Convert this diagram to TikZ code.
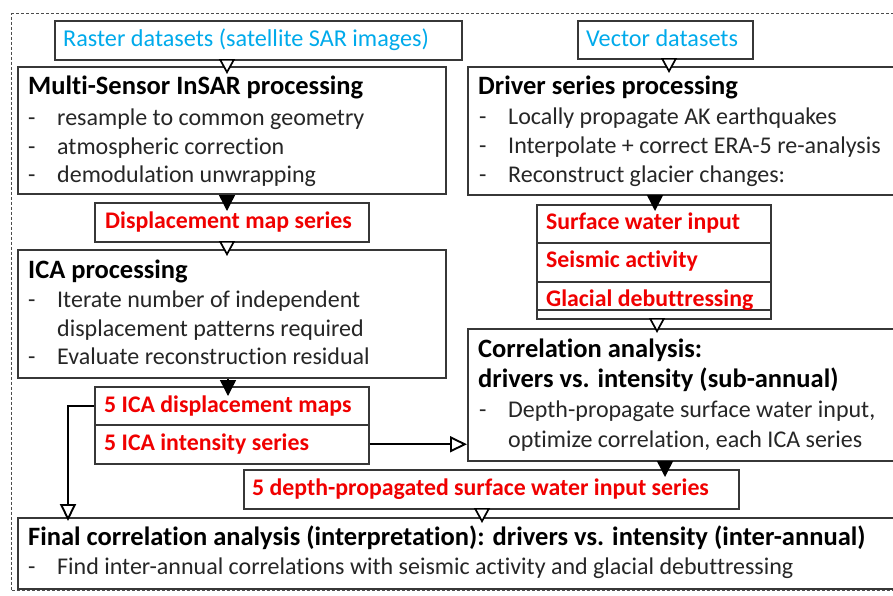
\documentclass[tikz,border=0pt]{standalone}
\usepackage{fontspec}
\setmainfont{Carlito}[Ligatures={NoCommon}]
\usetikzlibrary{arrows.meta}
\definecolor{cyanT}{RGB}{0,170,235}
\definecolor{redT}{RGB}{240,0,0}
\definecolor{frameC}{RGB}{55,55,55}
\begin{document}
\begin{tikzpicture}[x=1pt,y=-1pt,
  box/.style={draw=frameC, line width=1.5pt, rectangle, inner sep=0pt, anchor=north west},
  ttl/.style={anchor=base west, inner sep=0pt, font=\fontsize{26.5}{30}\selectfont\bfseries},
  bodytxt/.style={anchor=base west, inner sep=0pt, text=black!85, font=\fontsize{24}{28}\selectfont},
  redtxt/.style={anchor=base west, inner sep=0pt, text=redT, font=\fontsize{23.8}{28}\selectfont\bfseries},
  cyantxt/.style={anchor=base west, inner sep=0pt, text=cyanT, font=\fontsize{24.2}{28}\selectfont},
  oarr/.style={line width=1.4pt, draw=black, -{Triangle[open, length=15pt, width=16pt, line width=1.7pt, fill=white]}},
  farr/.style={line width=1.4pt, draw=black, -{Triangle[length=16pt, width=16pt]}},
  warr/.style={line width=2.2pt, draw=black, -{Triangle[open, length=17pt, width=16pt, line width=1.9pt, fill=white]}}
]
\useasboundingbox (0,0) rectangle (893,595);
\clip (0,0) rectangle (893,595);
\fill[white] (0,0) rectangle (893,595);

% outer dashed frame
\node[draw=black!70, dashed, dash pattern=on 3pt off 2pt, line width=1pt, rectangle, inner sep=0pt, anchor=north west,
  minimum width=900pt, minimum height=577pt] (outer) at (11,13) {};

% boxes
\node[box, minimum width=407pt, minimum height=39pt] (raster) at (54,20) {};
\node[box, minimum width=175pt, minimum height=38pt] (vector) at (577,20) {};
\node[box, minimum width=428pt, minimum height=127pt] (multi) at (17,66) {};
\node[box, minimum width=440pt, minimum height=128pt] (driver) at (467,66) {};
\node[box, minimum width=274pt, minimum height=39pt] (disp) at (94,202) {};
\node[box, minimum width=428pt, minimum height=128pt] (icap) at (17,249) {};
\node[box, minimum width=234pt, minimum height=38pt] (surf) at (536,204) {};
\node[box, minimum width=234pt, minimum height=39pt] (seis) at (536,242) {};
\node[box, minimum width=234pt, minimum height=28pt] (glac) at (536,281) {};
\node[box, minimum width=234pt, minimum height=9pt] (glacb) at (536,309) {};
\node[box, minimum width=440pt, minimum height=132pt] (corr) at (467,328) {};
\node[box, minimum width=274pt, minimum height=38pt] (icamaps) at (94,386) {};
\node[box, minimum width=274pt, minimum height=39pt] (icaint) at (94,424) {};
\node[box, minimum width=495pt, minimum height=39pt] (depth) at (243,469) {};
\node[box, minimum width=890pt, minimum height=71pt] (final) at (17,517) {};

% texts
\node[cyantxt] (tRaster) at (63,46) {Raster datasets (satellite SAR images)};
\node[cyantxt] (tVector) at (586,46) {Vector datasets};

\node[ttl] (tMulti) at (28,94) {Multi-Sensor InSAR processing};
\node[bodytxt] (dM1) at (28,125) {-};
\node[bodytxt] (tM1) at (57,125) {resample to common geometry};
\node[bodytxt] (dM2) at (28,154) {-};
\node[bodytxt] (tM2) at (57,154) {atmospheric correction};
\node[bodytxt] (dM3) at (28,182) {-};
\node[bodytxt] (tM3) at (57,182) {demodulation unwrapping};

\node[ttl] (tDriver) at (478,94) {Driver series processing};
\node[bodytxt] (dD1) at (479,124) {-};
\node[bodytxt] (tD1) at (508,124) {Locally propagate AK earthquakes};
\node[bodytxt] (dD2) at (479,153) {-};
\node[bodytxt] (tD2) at (508,153) {Interpolate + correct ERA-5 re-analysis};
\node[bodytxt] (dD3) at (479,182) {-};
\node[bodytxt] (tD3) at (508,182) {Reconstruct glacier changes:};

\node[redtxt] (tDisp) at (105,228) {Displacement map series};

\node[ttl] (tIca) at (28,278) {ICA processing};
\node[bodytxt] (dI1) at (28,307) {-};
\node[bodytxt] (tI1) at (57,307) {Iterate number of independent};
\node[bodytxt] (tI1b) at (57,336) {displacement patterns required};
\node[bodytxt] (dI2) at (28,364) {-};
\node[bodytxt] (tI2) at (57,364) {Evaluate reconstruction residual};

\node[redtxt] (tSurf) at (546,229) {Surface water input};
\node[redtxt] (tSeis) at (546,267) {Seismic activity};
\node[redtxt] (tGlac) at (546,306) {Glacial debuttressing};

\node[ttl] (tCorr1) at (478,357) {Correlation analysis:};
\node[ttl] (tCorr2) at (478,387) {drivers vs. intensity (sub-annual)};
\node[bodytxt] (dC1) at (479,417) {-};
\node[bodytxt] (tC1) at (508,417) {Depth-propagate surface water input,};
\node[bodytxt] (tC2) at (508,447) {optimize correlation, each ICA series};

\node[redtxt] (tMaps) at (104,412) {5 ICA displacement maps};
\node[redtxt] (tInt) at (104,450) {5 ICA intensity series};
\node[redtxt] (tDepth) at (252,495) {5 depth-propagated surface water input series};

\node[ttl] (tFinal) at (28,545) {Final correlation analysis (interpretation): drivers vs. intensity (inter-annual)};
\node[bodytxt] (dF1) at (28,574) {-};
\node[bodytxt] (tF1) at (57,574) {Find inter-annual correlations with seismic activity and glacial debuttressing};

% connectors
\draw[oarr] ([xshift=210pt]multi.north west |- raster.south) -- ([xshift=210pt, yshift=-8pt]multi.north west);
\draw[oarr] ([xshift=202pt]driver.north west |- vector.south) -- ([xshift=202pt, yshift=-7pt]driver.north west);
\draw[farr] ([xshift=133pt]disp.north west |- multi.south) -- ([xshift=133pt, yshift=-9pt]disp.north west);
\draw[oarr] ([xshift=210pt]icap.north west |- disp.south) -- ([xshift=210pt, yshift=-7pt]icap.north west);
\draw[farr] ([xshift=119pt]surf.north west |- driver.south) -- ([xshift=119pt, yshift=-7pt]surf.north west);
\draw[oarr] ([xshift=190pt]corr.north west |- glacb.south) -- ([xshift=190pt, yshift=-5pt]corr.north west);
\draw[farr] ([xshift=134pt]icamaps.north west |- icap.south) -- ([xshift=134pt, yshift=-10pt]icamaps.north west);
\draw[warr] (icaint.east) -- (icaint.east -| corr.west);
\draw[warr] (icamaps.west) -- ++(-26,0) coordinate (bend) -- ([yshift=-4pt]final.north west -| bend);
\draw[farr] ([xshift=422pt]depth.north west |- corr.south) -- ([xshift=422pt, yshift=-8pt]depth.north west);
\draw[oarr] ([xshift=465pt]final.north west |- depth.south) -- ([xshift=465pt, yshift=-6pt]final.north west);
\end{tikzpicture}
\end{document}
